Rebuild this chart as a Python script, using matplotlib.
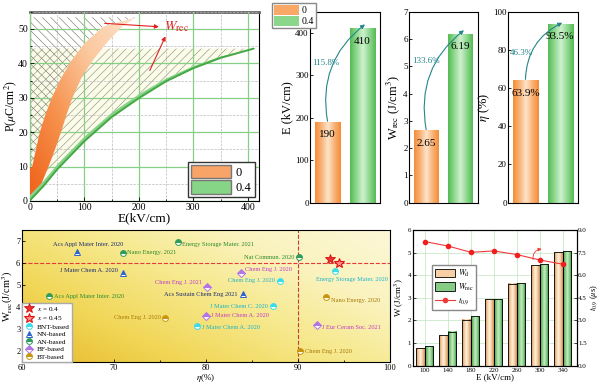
import numpy as np
import matplotlib
matplotlib.use("Agg")
import matplotlib.pyplot as plt
from matplotlib.colors import LinearSegmentedColormap
from matplotlib.patches import Polygon, Patch
from matplotlib.lines import Line2D
from matplotlib.ticker import MultipleLocator, FormatStrFormatter

plt.rcParams['font.family'] = ['Liberation Serif', 'DejaVu Serif']
plt.rcParams['mathtext.fontset'] = 'stix'
plt.rcParams['xtick.direction'] = 'in'
plt.rcParams['ytick.direction'] = 'in'
plt.rcParams['axes.linewidth'] = 0.8
plt.rcParams['hatch.linewidth'] = 0.4

# ---------------- data: panel (a) P-E loops ----------------
pe0_dis_E = [0, 4, 11, 18, 28, 40, 58, 77, 101, 135, 195]
pe0_dis_P = [9.6, 10, 15, 20, 25, 30, 36, 41, 46, 50.7, 53.4]
pe0_chg_E = [0, 21, 34, 46, 57, 67, 78, 95, 116, 141, 169, 195]
pe0_chg_P = [1.7, 5, 10, 15, 20, 25, 30, 36, 41, 46, 50.7, 53.4]
pe4_E = [0, 25, 50, 100, 150, 200, 250, 300, 350, 411]
pe4_chg_P = [0.2, 4.4, 9.2, 17.4, 24.4, 29.9, 34.8, 38.6, 41.6, 44.3]
pe4_dis_P = [1.6, 5.8, 10.6, 18.7, 25.6, 31.0, 35.6, 39.2, 42.0, 44.3]

# ---------------- data: panel (b) bars ----------------
groups = ['0', '0.4']
E_b = [190, 410]
Wrec_b = [2.65, 6.19]
eta_b = [63.9, 93.5]
incr_b = ['115.8%', '133.6%', '46.3%']

# ---------------- data: panel (c) comparison ----------------
bnt_eta = [94.0, 88.0, 87.3, 79.0]
bnt_w = [5.63, 5.2, 4.05, 3.13]
bnt_ref = ['Energy Storage Mater. 2020', 'Chem Eng J. 2020', 'J Mater Chem C. 2020', 'J Mater Chem A. 2020']
nn_eta = [66.0, 71.0, 84.0]
nn_w = [6.52, 5.57, 4.6]
nn_ref = ['Acs Appl Mater Inter. 2020', 'J Mater Chem A. 2020', 'Acs Sustain Chem Eng 2021']
an_eta = [77.0, 71.0, 90.1, 63.0]
an_w = [6.97, 6.47, 6.28, 4.49]
an_ref = ['Energy Storage Mater. 2021', 'Nano Energy. 2021', 'Nat Commun. 2020', 'Acs Appl Mater Inter. 2020']
bf_eta = [83.8, 80.1, 80.0, 92.1]
bf_w = [5.57, 4.94, 3.62, 3.2]
bf_ref = ['Chem Eng J. 2020', 'Chem Eng J. 2021', 'J Mater Chem A. 2020', 'J Eur Ceram Soc. 2021']
bt_eta = [75.6, 93.0, 90.2]
bt_w = [3.52, 4.48, 2.01]
bt_ref = ['Chem Eng J. 2020', 'Nano Energy. 2020', 'Chem Eng J. 2020']
x04_eta, x04_w = [93.5], [6.19]
x045_eta, x045_w = [94.4], [6.0]

# ---------------- data: panel (d) ----------------
E_d = [100, 140, 180, 220, 260, 300, 340]
Wd_d = [0.77, 1.36, 2.04, 2.93, 3.63, 4.44, 5.02]
Wrec_d = [0.87, 1.51, 2.21, 2.94, 3.64, 4.48, 5.05]
t09_d = [8.23, 7.94, 7.52, 7.61, 7.37, 7.01, 6.73]

fig = plt.figure(figsize=(6.0, 3.83), dpi=100)

cm_or = LinearSegmentedColormap.from_list('or', ['#f0621a', '#f6914c', '#fbc9a0', '#fde2cc'])
cm_bar_or = LinearSegmentedColormap.from_list('bor', ['#fde3c6', '#f9b277', '#f58d38'])
cm_bar_gr = LinearSegmentedColormap.from_list('bgr', ['#cdf0cd', '#8fd88f', '#55bb55'])
cm_d_tan = LinearSegmentedColormap.from_list('dt', ['#fff0dc', '#f3c79a', '#c98c58'])
cm_d_gr = LinearSegmentedColormap.from_list('dg', ['#c7ecc0', '#7fc87f', '#358a45'])


def grad_patch(ax, patch, cmap, z):
    verts = patch.get_xy()
    x0, x1 = verts[:, 0].min(), verts[:, 0].max()
    y0, y1 = verts[:, 1].min(), verts[:, 1].max()
    X, Y = np.meshgrid(np.linspace(0, 1, 200), np.linspace(0, 1, 200))
    im = ax.imshow(0.55 * X + 0.45 * Y, extent=(x0, x1, y0, y1), origin='lower',
                   cmap=cmap, aspect='auto', zorder=z, interpolation='bilinear')
    im.set_clip_path(patch)


def grad_bars(ax, bars, cmap, z=2):
    for r in bars:
        x0, y0 = r.get_x(), r.get_y()
        w, h = r.get_width(), r.get_height()
        g = np.abs(np.linspace(-1, 1, 64))[None, :]
        ax.imshow(g, extent=(x0, x0 + w, y0, y0 + h), origin='lower', cmap=cmap,
                  aspect='auto', zorder=z, interpolation='bilinear')

# ================= panel (a) =================
axa = fig.add_axes([0.05, 0.4752, 0.381, 0.494])
hg = Polygon([(0, pe4_dis_P[0])] + list(zip(pe4_E, pe4_dis_P)) + [(0, pe4_dis_P[-1])],
             closed=True, facecolor='#fbfbea', edgecolor='#8a8a72', lw=0, hatch='////', zorder=1)
axa.add_patch(hg)
ho = Polygon(list(zip(pe0_dis_E, pe0_dis_P)) + [(0, pe0_dis_P[-1])],
             closed=True, facecolor='none', edgecolor='#6f6f5c', lw=0, hatch='\\\\\\\\', zorder=1.1)
axa.add_patch(ho)
og = Polygon(list(zip(pe0_chg_E, pe0_chg_P)) + list(zip(pe0_dis_E[::-1], pe0_dis_P[::-1]))[1:],
             closed=True, facecolor='none', edgecolor='none', zorder=3)
axa.add_patch(og)
grad_patch(axa, og, cm_or, 3)
gg = Polygon(list(zip(pe4_E, pe4_chg_P)) + list(zip(pe4_E[::-1], pe4_dis_P[::-1]))[1:],
             closed=True, facecolor='#86d286', edgecolor='none', zorder=3)
axa.add_patch(gg)
axa.plot(pe4_E, pe4_chg_P, color='#44a844', lw=1.4, zorder=3.2, solid_capstyle='round')
axa.set_xlim(0, 420)
axa.set_ylim(0, 55)
axa.xaxis.set_major_locator(MultipleLocator(100))
axa.xaxis.set_minor_locator(MultipleLocator(50))
axa.yaxis.set_major_locator(MultipleLocator(10))
axa.yaxis.set_minor_locator(MultipleLocator(5))
axa.grid(which='major', color='#86d086', lw=0.9)
axa.grid(which='minor', color='#bcbcbc', lw=0.5, ls='--')
axa.set_axisbelow(False)
axa.tick_params(labelsize=7, length=3, width=0.6, pad=1.5)
axa.tick_params(which='minor', length=1.5)
axa.spines['top'].set_linewidth(2.0)
axa.spines['top'].set_color('#666666')
axa.set_xlabel('E(kV/cm)', fontsize=9.5, labelpad=0)
axa.set_ylabel(r'P($\mu$C/cm$^2$)', fontsize=8.5)
axa.yaxis.set_label_coords(-0.05, 0.5)
axa.annotate('', xy=(242, 50.6), xytext=(132, 51.7),
             arrowprops=dict(arrowstyle='-|>', color='#e02020', lw=0.8, mutation_scale=6), zorder=5)
axa.annotate('', xy=(251, 48.6), xytext=(218, 37.2),
             arrowprops=dict(arrowstyle='-|>', color='#e02020', lw=0.8, mutation_scale=6), zorder=5)
axa.text(246, 50.7, r'$W_{\rm rec}$', color='#e02020', fontsize=10, va='center', ha='left', zorder=5)
axa.legend(handles=[Patch(facecolor='#f8a468', edgecolor='#777777'),
                    Patch(facecolor='#86d486', edgecolor='#777777')],
           labels=['0', '0.4'], loc='lower right', fontsize=9, handlelength=3.2, handleheight=1.3,
           fancybox=False, framealpha=1, edgecolor='#333333', borderpad=0.25,
           handletextpad=0.4, labelspacing=0.1, borderaxespad=0.3)

# ================= panel (b) =================
b_pos = [[0.5167, 0.4708, 0.1167, 0.4987], [0.6817, 0.4708, 0.1145, 0.4987], [0.8467, 0.4708, 0.116, 0.4987]]
b_vals = [E_b, Wrec_b, eta_b]
b_lim = [450, 7, 100]
b_step = [100, 1, 20]
b_lab = ['E (kV/cm)', r'W$_{\rm rec}$ (J/cm$^3$)', r'$\eta$ (%)']
b_fmt = ['{:.0f}', '{:.2f}', '{:.1f}%']
b_txt = [(-0.05, 329), (0.0, 5.2), (-0.12, 78.5)]
b_end = [(1.07, 420), (1.1, 6.32), (1.06, 94.2)]
for k in range(3):
    ax = fig.add_axes(b_pos[k])
    xs = np.arange(len(groups))
    bars = ax.bar(xs, b_vals[k], width=0.72, color='none', edgecolor='none')
    grad_bars(ax, [bars[0]], cm_bar_or)
    grad_bars(ax, [bars[1]], cm_bar_gr)
    ax.set_xlim(-0.5, 1.5)
    ax.set_ylim(0, b_lim[k])
    ax.yaxis.set_major_locator(MultipleLocator(b_step[k]))
    ax.set_xticks(xs)
    ax.set_xticklabels([])
    ax.tick_params(labelsize=6.5, length=2.5, width=0.6, pad=1)
    ax.set_ylabel(b_lab[k], fontsize=9, labelpad=1)
    for xi, v in zip(xs, b_vals[k]):
        ax.annotate(b_fmt[k].format(v), (xi, v), xytext=(0, -6), textcoords='offset points',
                    ha='center', va='top', fontsize=8, zorder=4)
    ax.annotate('', xy=b_end[k], xytext=(0, b_vals[k][0] * 1.01),
                arrowprops=dict(arrowstyle='-|>', color='#24858a', lw=0.8, mutation_scale=6,
                                connectionstyle='arc3,rad=-0.3', shrinkA=0, shrinkB=0), zorder=5)
    ax.text(b_txt[k][0], b_txt[k][1], incr_b[k], color='#24858a', fontsize=6.5,
            ha='center', va='center', zorder=5)

fig.legend(handles=[Patch(facecolor='#f9a866', edgecolor='none'), Patch(facecolor='#8ad68a', edgecolor='none')],
           labels=['0', '0.4'], loc='upper left', bbox_to_anchor=(0.445, 1.005), fontsize=7,
           handlelength=2.6, handleheight=1.2, fancybox=False, framealpha=1, edgecolor='#888888',
           borderpad=0.2, handletextpad=0.3, labelspacing=0.1)

# ================= panel (c) =================
axc = fig.add_axes([0.0362, 0.054, 0.614, 0.345])
cm_bg = LinearSegmentedColormap.from_list('bg', ['#e8b92a', '#f1d656', '#f6e88a', '#faf3bf', '#fcf8d8'])
X, Y = np.meshgrid(np.linspace(0, 1, 300), np.linspace(0, 1, 200))
axc.imshow(0.6 * X + 0.45 * Y, extent=(60, 100, 1.5, 7.5), origin='lower', cmap=cm_bg,
           aspect='auto', zorder=0, interpolation='bilinear')
axc.axhline(6, color='#e43a3a', ls='--', lw=0.8, zorder=1)
axc.axvline(90, color='#c83a3a', ls='--', lw=0.8, zorder=1)

series = [
    (bnt_eta, bnt_w, bnt_ref, 'o', '#38dcec', '#1fb3c6', 'BNT-based'),
    (nn_eta, nn_w, nn_ref, '^', '#2a62cf', '#1b2c70', 'NN-based'),
    (an_eta, an_w, an_ref, 'o', '#2f9c5a', '#2c8a2c', 'AN-based'),
    (bf_eta, bf_w, bf_ref, 'D', '#b274e6', '#c23cc6', 'BF-based'),
    (bt_eta, bt_w, bt_ref, 'o', '#c8950c', '#a77808', 'BT-based'),
]
lab_pos = [
    [('center', 12, -5.5), ('right', -3.5, 0), ('right', -3.5, 0), ('left', 3.5, -0.5)],
    [('center', 8, 5.5), ('right', -3.5, 1.3), ('right', -3.5, 0)],
    [('left', 3, -2), ('left', 3, 0), ('right', -3.5, 0), ('left', 3, 0)],
    [('left', 3, 2.4), ('right', -3.5, 3), ('left', 3.5, 0), ('left', 3.5, -1.6)],
    [('right', -3.5, 0), ('left', 3.5, -3), ('left', 3.5, 0)],
]
handles = []
sx4 = axc.plot(x04_eta, x04_w, ls='none', marker='*', ms=7, mfc='#f03030', mec='#d01010', mew=0.6, zorder=4)[0]
sx45 = axc.plot(x045_eta, x045_w, ls='none', marker='*', ms=7, mfc='#ff8a8a', mec='#e01010', mew=0.8, zorder=4)[0]
handles += [sx4, sx45]
for (ex, wy, refs, mk, mc, tc, name), lp in zip(series, lab_pos):
    ms = 4.2 if mk != 'D' else 3.6
    h = axc.plot(ex, wy, ls='none', marker=mk, ms=ms, mfc=mc, mfcalt='white', fillstyle='top',
                 mec=mc, mew=0.7, zorder=3, label=name)[0]
    handles.append(h)
    for e, w, r, (ha, dx, dy) in zip(ex, wy, refs, lp):
        axc.annotate(r, (e, w), xytext=(dx, dy), textcoords='offset points', ha=ha, va='center',
                     fontsize=4.6, color=tc, zorder=3)
axc.set_xlim(60, 100)
axc.set_ylim(1.5, 7.5)
axc.xaxis.set_major_locator(MultipleLocator(10))
axc.xaxis.set_minor_locator(MultipleLocator(5))
axc.yaxis.set_major_locator(MultipleLocator(1))
axc.tick_params(labelsize=6, length=2.5, width=0.6, pad=1)
axc.tick_params(which='minor', length=1.5)
axc.set_xlabel(r'$\eta$(%)', fontsize=6.5, labelpad=0.3)
axc.set_ylabel(r'W$_{\rm rec}$(J/cm$^3$)', fontsize=7.5, labelpad=1)
axc.legend(handles=handles, labels=[r'$x$ = 0.4', r'$x$ = 0.45', 'BNT-based', 'NN-based', 'AN-based',
                                    'BF-based', 'BT-based'],
           loc='lower left', fontsize=5.2, fancybox=False, framealpha=1, edgecolor='#aaaaaa',
           borderpad=0.3, labelspacing=0.2, handletextpad=0.4, handlelength=1.3, borderaxespad=0.05)

# ================= panel (d) =================
axd = fig.add_axes([0.6888, 0.0452, 0.2723, 0.3543])
xd = np.arange(len(E_d))
b1 = axd.bar(xd - 0.19, Wd_d, width=0.36, color='none', edgecolor='black', lw=0.6, zorder=3)
b2 = axd.bar(xd + 0.19, Wrec_d, width=0.36, color='none', edgecolor='black', lw=0.6, zorder=3)
grad_bars(axd, b1, cm_d_tan, z=2)
grad_bars(axd, b2, cm_d_gr, z=2)
axd.set_xlim(-0.5, 6.6)
axd.set_ylim(0, 6)
axd.set_xticks(xd)
axd.set_xticklabels([str(v) for v in E_d])
axd.yaxis.set_major_locator(MultipleLocator(1))
axd.grid(True, color='#bfe4bf', lw=0.5, zorder=0)
axd.set_axisbelow(True)
axd.tick_params(labelsize=5, length=2, width=0.5, pad=1.5)
axd.set_xlabel('E (kV/cm)', fontsize=6.5, labelpad=0)
axd.set_ylabel(r'W (J/cm$^3$)', fontsize=6.5, labelpad=1)
axr = axd.twinx()
ln, = axr.plot(xd, t09_d, color='#f03a3a', lw=0.8, marker='o', ms=3, mfc='#f01e1e', mec='#f01e1e', zorder=5)
axr.set_ylim(0, 9)
axr.yaxis.set_major_locator(MultipleLocator(1.5))
axr.yaxis.set_major_formatter(FormatStrFormatter('%.1f'))
axr.tick_params(labelsize=5, length=2, width=0.5, pad=1, direction='in')
axr.set_ylabel(r'$t_{0.9}$ ($\mu$s)', fontsize=6, labelpad=1)
axr.annotate('', xy=(5.2, 7.75), xytext=(4.72, 6.85),
             arrowprops=dict(arrowstyle='-|>', color='#f03a3a', lw=0.6, mutation_scale=5,
                             connectionstyle='arc3,rad=-0.6'))
axd.legend(handles=[Patch(facecolor='#f6cfa4', edgecolor='black', lw=0.6),
                    Patch(facecolor='#86cc86', edgecolor='black', lw=0.6),
                    Line2D([], [], color='#f03a3a', lw=0.8, marker='o', ms=3)],
           labels=[r'$W_{\rm d}$', r'$W_{\rm rec}$', r'$t_{0.9}$'], loc='upper left',
           bbox_to_anchor=(0.09, 0.77), fontsize=6, fancybox=False, framealpha=1,
           edgecolor='#888888', handlelength=2.4, handleheight=1.2, borderpad=0.3,
           labelspacing=0.3, handletextpad=0.4)

fig.savefig('out.png', dpi=100)
